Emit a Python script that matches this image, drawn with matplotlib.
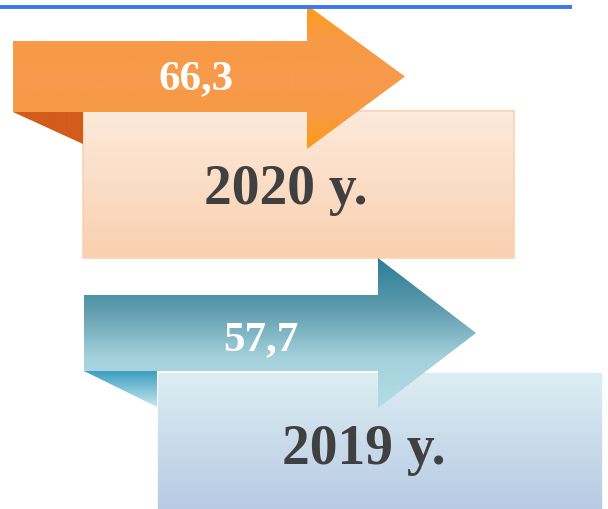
"""
Infographic: two arrows with values for 2020 and 2019
"""

import numpy as np
import matplotlib.pyplot as plt
from matplotlib.patches import Polygon
from matplotlib.colors import to_rgb

# data
years = ["2020 y.", "2019 y."]
values = [66.3, 57.7]


def fmt(v):
    return f"{v:.1f}".replace(".", ",")


def gradient_poly(ax, verts, stops, edge=None, lw=0, z=1):
    """fill a polygon with a vertical gradient (stops: list of colors top->bottom)"""
    verts = np.asarray(verts, dtype=float)
    x0, x1 = verts[:, 0].min(), verts[:, 0].max()
    y0, y1 = verts[:, 1].min(), verts[:, 1].max()
    n = 256
    pos = np.linspace(0, 1, len(stops))
    cols = np.array([to_rgb(c) for c in stops])
    t = np.linspace(0, 1, n)
    grad = np.stack([np.interp(t, pos, cols[:, i]) for i in range(3)], axis=-1)
    grad = grad[:, None, :]
    im = ax.imshow(grad, extent=(x0, x1, y1, y0), origin='upper',
                   aspect='auto', zorder=z, interpolation='bilinear')
    poly = Polygon(verts, closed=True, facecolor='none', edgecolor='none')
    ax.add_patch(poly)
    im.set_clip_path(poly)
    if edge is not None:
        ax.add_patch(Polygon(verts, closed=True, facecolor='none',
                             edgecolor=edge, linewidth=lw, zorder=z + 0.1))


fig = plt.figure(figsize=(6.08, 5.10), dpi=100)
ax = fig.add_axes([0, 0, 1, 1])

# top blue line
ax.plot([0, 572], [8, 8], color='#3a78ef', linewidth=2.8, solid_capstyle='butt', zorder=5)

# layout of each block: arrow body, arrow head, box and text positions (pixels)
layouts = [
    dict(ax0=13, bt=42, bb=113, hx=307, ht=6, tx=405, hb=150,
         rx0=83, ry0=112, rx1=514, ry1=259, fold_y=145,
         txt_x=196, txt_y=79, yr_x=286, yr_y=190),
    dict(ax0=84, bt=296, bb=372, hx=378, ht=259, tx=476, hb=409,
         rx0=157, ry0=373, rx1=603, ry1=512, fold_y=408,
         txt_x=261, txt_y=340, yr_x=364, yr_y=450),
]

styles = [
    dict(rect=['#fdeadb', '#f9d0b0'], rect_edge='#fad2b2',
         arrow=['#fe9a1e', '#f89a45', '#f79a4c', '#f89a44', '#fe9a18'],
         fold=['#d35c1b', '#d35c1b']),
    dict(rect=['#ddeef3', '#b7cae3'], rect_edge='white',
         arrow=['#2c7d96', '#5d9bad', '#a5d1dc', '#b3dde7'],
         fold=['#3c9fbf', '#c6e7ef']),
]

for i, (yr, v) in enumerate(zip(years, values)):
    L = layouts[i]
    S = styles[i]
    # box with year
    rect = [(L['rx0'], L['ry0']), (L['rx1'], L['ry0']),
            (L['rx1'], L['ry1']), (L['rx0'], L['ry1'])]
    gradient_poly(ax, rect, S['rect'], edge=S['rect_edge'], lw=1.2, z=1)
    # folded corner
    fold = [(L['ax0'], L['bb']), (L['rx0'], L['bb']), (L['rx0'], L['fold_y'])]
    gradient_poly(ax, fold, S['fold'], z=2)
    # arrow
    arrow = [(L['ax0'], L['bt']), (L['hx'], L['bt']), (L['hx'], L['ht']),
             (L['tx'], (L['bt'] + L['bb']) / 2), (L['hx'], L['hb']),
             (L['hx'], L['bb']), (L['ax0'], L['bb'])]
    gradient_poly(ax, arrow, S['arrow'], z=3)

    ax.text(L['txt_x'], L['txt_y'], fmt(v), color='white', fontsize=31,
            fontweight='bold', family='Liberation Serif', ha='center', va='center', zorder=6)
    ax.text(L['yr_x'], L['yr_y'], yr, color='#404040', fontsize=40,
            fontweight='bold', family='Liberation Serif', ha='center', va='center', zorder=6)

ax.set_xlim(0, 608)
ax.set_ylim(510, 0)
ax.axis('off')

plt.savefig('out.png', dpi=100)
